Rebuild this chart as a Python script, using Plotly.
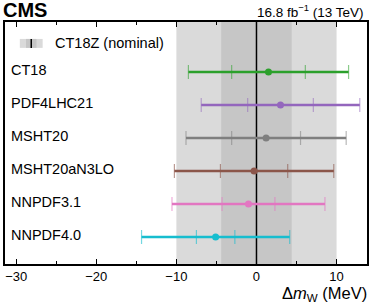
import plotly.graph_objects as go

# ---- data ----
pdf_names = ["CT18", "PDF4LHC21", "MSHT20", "MSHT20aN3LO", "NNPDF3.1", "NNPDF4.0"]
y_pos = [5, 4, 3, 2, 1, 0]
centers = [1.5, 3.0, 1.2, -0.3, -1.0, -5.1]
inner_err = [4.6, 4.1, 4.3, 4.2, 3.3, 2.4]
outer_err = [10.0, 9.9, 10.0, 9.95, 9.55, 9.25]
colors = ["#2ca02c", "#9467bd", "#7f7f7f", "#8c564b", "#e377c2", "#17becf"]
cap_colors = ["rgba(44,160,44,0.55)", "rgba(148,103,189,0.55)", "rgba(127,127,127,0.55)",
              "rgba(140,86,75,0.6)", "rgba(227,119,194,0.6)", "rgba(23,190,207,0.6)"]
nominal_outer = 10.0
nominal_inner = 4.4
x_ticks = [-30, -20, -10, 0, 10]
x_minor = [-25, -15, -5, 5]

FONT = "Liberation Sans, Arial, Helvetica, sans-serif"

fig = go.Figure()

for i in range(len(pdf_names)):
    # thick horizontal line (outer range, no caps)
    fig.add_trace(go.Scatter(
        x=[centers[i]], y=[y_pos[i]], mode="markers",
        marker=dict(size=1, color=colors[i], opacity=0),
        error_x=dict(type="data", array=[outer_err[i]], color=colors[i],
                     thickness=2.5, width=0),
        showlegend=False, hoverinfo="skip"))
    # outer caps
    fig.add_trace(go.Scatter(
        x=[centers[i]], y=[y_pos[i]], mode="markers",
        marker=dict(size=1, color=colors[i], opacity=0),
        error_x=dict(type="data", array=[outer_err[i]], color=cap_colors[i],
                     thickness=1.2, width=7),
        showlegend=False, hoverinfo="skip"))
    # inner caps + central marker
    fig.add_trace(go.Scatter(
        x=[centers[i]], y=[y_pos[i]], mode="markers",
        marker=dict(size=7, color=colors[i]),
        error_x=dict(type="data", array=[inner_err[i]], color=cap_colors[i],
                     thickness=1.2, width=7),
        showlegend=False, hoverinfo="skip"))

shapes = [
    dict(type="rect", xref="x", yref="paper", x0=-nominal_outer, x1=nominal_outer,
         y0=0, y1=1, fillcolor="#dadada", line=dict(width=0), layer="below"),
    dict(type="rect", xref="x", yref="paper", x0=-nominal_inner, x1=nominal_inner,
         y0=0, y1=1, fillcolor="#c6c6c6", line=dict(width=0), layer="below"),
    dict(type="line", xref="x", yref="paper", x0=0, x1=0, y0=0, y1=1,
         line=dict(color="black", width=1.5), layer="below"),
    # legend symbol
    dict(type="rect", xref="paper", yref="paper", x0=0.041, x1=0.104,
         y0=0.893, y1=0.93, fillcolor="#dadada", line=dict(width=0)),
    dict(type="rect", xref="paper", yref="paper", x0=0.058, x1=0.087,
         y0=0.893, y1=0.93, fillcolor="#c6c6c6", line=dict(width=0)),
    dict(type="line", xref="paper", yref="paper", x0=0.0725, x1=0.0725,
         y0=0.893, y1=0.93, line=dict(color="black", width=1.5)),
]

annotations = [
    dict(text="<b>CMS</b>", xref="paper", yref="paper", x=-0.012, y=1.05,
         xanchor="left", yanchor="middle", showarrow=False,
         font=dict(size=20, family=FONT, color="black")),
    dict(text="16.8 fb<sup>\u22121</sup> (13 TeV)", xref="paper", yref="paper",
         x=0.997, y=1.047, xanchor="right", yanchor="middle", showarrow=False,
         font=dict(size=13.5, family=FONT, color="black")),
    dict(text="\u0394<i>m</i><sub>W</sub> (MeV)", xref="paper", yref="paper",
         x=1.005, y=-0.125, xanchor="right", yanchor="middle", showarrow=False,
         font=dict(size=16.5, family=FONT, color="black")),
    dict(text="CT18Z (nominal)", xref="paper", yref="paper", x=0.132, y=0.913,
         xanchor="left", yanchor="middle", showarrow=False,
         font=dict(size=14.5, family=FONT, color="black")),
]
for name, yp in zip(pdf_names, y_pos):
    annotations.append(dict(text=name, xref="paper", yref="y", x=0.01, y=yp + 0.05,
                            xanchor="left", yanchor="middle", showarrow=False,
                            font=dict(size=14.5, family=FONT, color="black")))

fig.update_layout(
    width=374, height=306,
    margin=dict(l=5, r=5, t=22, b=42),
    paper_bgcolor="white", plot_bgcolor="white",
    font=dict(family=FONT, color="black"),
    shapes=shapes, annotations=annotations,
    showlegend=False,
    xaxis=dict(range=[-31.4, 13.8], tickvals=x_ticks, ticks="inside", ticklen=5,
               tickwidth=1, tickcolor="black", showgrid=False, zeroline=False,
               showline=True, linecolor="black", linewidth=1.5, mirror="allticks",
               tickfont=dict(size=13, family=FONT, color="black"),
               minor=dict(tickvals=x_minor, ticks="inside", ticklen=3,
                          tickcolor="black", showgrid=False)),
    yaxis=dict(range=[-0.82, 6.52], tickvals=y_pos, showticklabels=False,
               ticks="", showgrid=False, zeroline=False,
               showline=True, linecolor="black", linewidth=1.5, mirror=True),
)

fig.write_html("out.html", config={"displayModeBar": False},
               post_script="document.body.style.margin='0';")
